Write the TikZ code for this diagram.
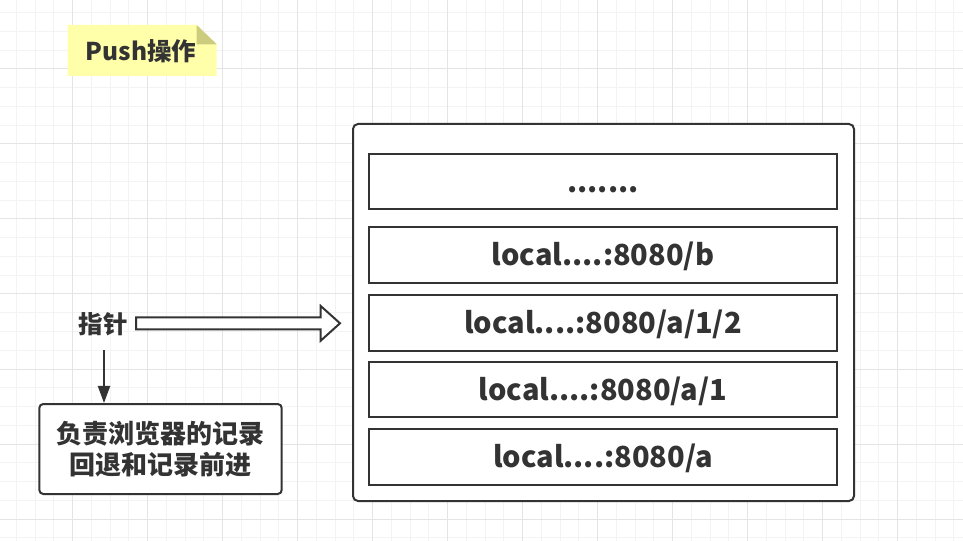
\documentclass[tikz,border=0pt]{standalone}
\usepackage{fontspec}
\setmainfont{Noto Sans CJK SC}
\usetikzlibrary{arrows.meta}
\definecolor{ink}{HTML}{333333}
\definecolor{gmin}{HTML}{F3F3F3}
\definecolor{gmaj}{HTML}{E4E4E4}
\definecolor{notey}{HTML}{FFFFAA}
\definecolor{notef}{HTML}{CCCC7F}
\begin{document}
\begin{tikzpicture}[x=1bp,y=-1bp,
  gridminor/.style={draw=gmin,line width=1bp},
  gridmajor/.style={draw=gmaj,line width=1bp},
  box/.style={draw=ink,line width=2bp,fill=white,inner sep=0pt,text=ink},
  rowbox/.style={box,minimum width=468bp,minimum height=55.5bp,
    font=\fontsize{29bp}{35bp}\selectfont\bfseries,text height=21bp,text depth=0bp},
  cjktext/.style={text=ink,inner sep=0pt,font=\fontsize{24.5bp}{30bp}\selectfont\bfseries},
  conn/.style={draw=ink,line width=2bp},
  hollow/.style={draw=ink,line width=2bp,fill=white,line join=miter}
]
\useasboundingbox (0,0) rectangle (963,541);
\fill[white] (0,0) rectangle (963,541);
% grid
\foreach \i in {-3,...,47} \draw[gridminor] ({72.5+18.75*\i},0) -- ({72.5+18.75*\i},541);
\foreach \i in {-3,...,25} \draw[gridminor] (0,{69+18.75*\i}) -- (963,{69+18.75*\i});
\foreach \i in {0,...,11} \draw[gridmajor] ({72.5+75*\i},0) -- ({72.5+75*\i},541);
\foreach \i in {0,...,6} \draw[gridmajor] (0,{69+75*\i}) -- (963,{69+75*\i});

% note
\fill[notey] (67.7,25) -- (196.7,25) -- (216.7,44.3) -- (216.7,76) -- (67.7,76) -- cycle;
\fill[notef] (196.7,25) -- (216.7,44.3) -- (196.7,44.3) -- cycle;
\node[cjktext,font=\fontsize{24.5bp}{30bp}\selectfont\bfseries] (note) at (141,51) {Push操作};

% stack
\node[box,rounded corners=5bp,minimum width=501bp,minimum height=377bp] (stack) at (603.5,312.5) {};
\node[rowbox] (r1) at (603,181.75) {.......};
\node[rowbox] (r2) at (603,255) {local....:8080/b};
\node[rowbox] (r3) at (603,323) {local....:8080/a/1/2};
\node[rowbox] (r4) at (603,389.5) {local....:8080/a/1};
\node[rowbox] (r5) at (603,457) {local....:8080/a};

% pointer
\node[cjktext] (ptr) at (103.3,324) {指针};
\coordinate (ptrS) at (136,323.3);
\coordinate (ptrE) at (340,323.3);
\draw[hollow] (ptrS) ++(0,-6) -- ++(184.7,0) -- ++(0,-11.3) -- (ptrE)
  -- ++(-19.3,17.4) -- ++(0,-11.4) -- ++(-184.7,0) -- cycle;

% description
\node[box,rounded corners=4bp,minimum width=242.4bp,minimum height=90bp,
  align=center,font=\fontsize{26bp}{31bp}\selectfont\bfseries] (desc) at (160.5,449)
  {负责浏览器的记录\\回退和记录前进};
\coordinate (dn) at (104,350);
\draw[conn,-{Triangle[length=17bp,width=12bp]}] (dn) -- (dn |- desc.north);
\end{tikzpicture}
\end{document}
